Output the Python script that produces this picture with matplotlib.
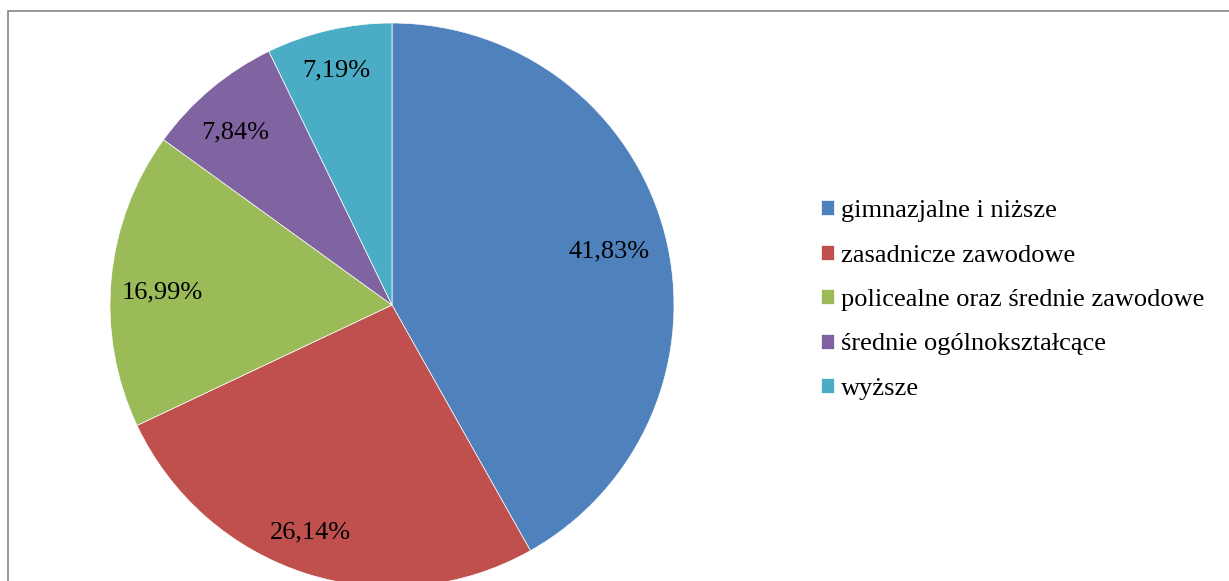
import matplotlib.pyplot as plt
from matplotlib.patches import Rectangle
import numpy as np

# dane
categories = ["gimnazjalne i niższe", "zasadnicze zawodowe",
              "policealne oraz średnie zawodowe", "średnie ogólnokształcące",
              "wyższe"]
shares = [41.83, 26.14, 16.99, 7.84, 7.19]
pct_labels = ["41,83%", "26,14%", "16,99%", "7,84%", "7,19%"]
colors = ["#4F81BD", "#C0504D", "#9BBB59", "#8064A2", "#4BACC6"]
# położenie etykiet: odległość od środka i przesunięcie kąta (jak w Excelu)
label_dist = [0.796, 0.845, 0.818, 0.836, 0.867]
label_shift = [0.0, -2.3, 1.3, 1.7, 0.2]

plt.rcParams['font.family'] = ['Liberation Serif', 'DejaVu Serif']

W, H = 1229, 581
fig = plt.figure(figsize=(W / 100, H / 100), dpi=100)

# ramka wykresu
fig.patches.append(Rectangle((7.5 / W, -0.1), 1.2, (H - 11 + 0.1 * H) / H,
                             transform=fig.transFigure, fill=False,
                             edgecolor="#868686", linewidth=1.2))

cx, cy, r = 392, H - 305, 282
ax = fig.add_axes([(cx - r) / W, (cy - r) / H, 2 * r / W, 2 * r / H])
wedges, _ = ax.pie(shares, colors=colors, startangle=90, counterclock=False,
                   radius=1, wedgeprops=dict(edgecolor="white", linewidth=0.5))
ax.set_xlim(-1, 1)
ax.set_ylim(-1, 1)
ax.set_aspect("equal")
ax.axis("off")

half_digit = 9.5 / r
for w, txt, d, s in zip(wedges, pct_labels, label_dist, label_shift):
    ang = np.deg2rad((w.theta1 + w.theta2) / 2 + s)
    ax.text(d * np.cos(ang), d * np.sin(ang) - half_digit, txt,
            ha="center", va="baseline", fontsize=19)

fig.legend(wedges, categories, loc="center left",
           bbox_to_anchor=(821 / W, (H - 300) / H), frameon=False,
           fontsize=19, handlelength=0.5, handleheight=0.5,
           handletextpad=0.25, labelspacing=0.85, borderpad=0,
           borderaxespad=0)

fig.savefig("out.png", dpi=100)
